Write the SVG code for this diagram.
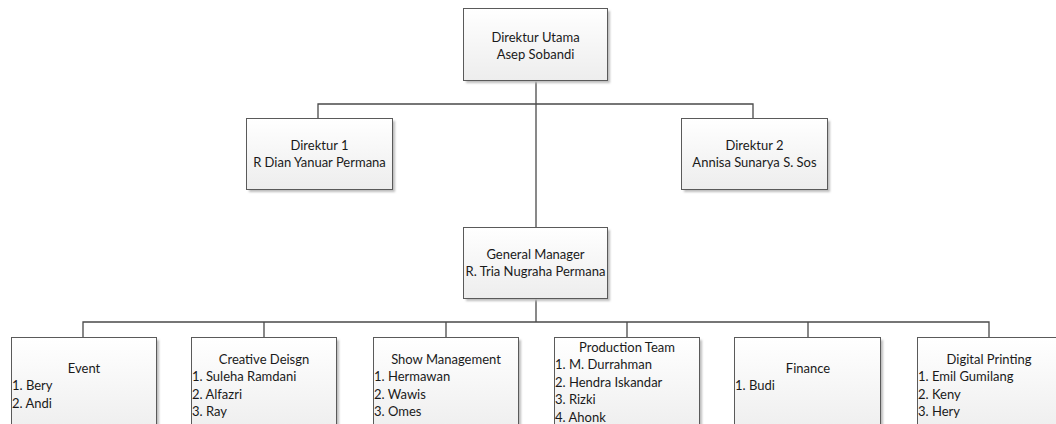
<svg xmlns="http://www.w3.org/2000/svg" width="1056" height="424" viewBox="0 0 1056 424">
  <defs>
    <linearGradient id="boxFill" x1="0" y1="0" x2="0" y2="1">
      <stop offset="0" stop-color="#ffffff"/>
      <stop offset="1" stop-color="#ededed"/>
    </linearGradient>
    <filter id="soft" x="-10%" y="-10%" width="130%" height="130%">
      <feGaussianBlur stdDeviation="1"/>
    </filter>
  </defs>
  <style>
    .shadow { fill: #bdbdbd; filter: url(#soft); }
    .box { fill: url(#boxFill); stroke: #5a5a5a; stroke-width: 1; }
    .conn { fill: none; stroke: #4a4a4a; stroke-width: 1.3; }
    text { font-family: Lato, "Open Sans", "Liberation Sans", sans-serif; font-size: 13px; fill: #1a1a1a; }
    .c { text-anchor: middle; }
  </style>

  <!-- connectors -->
  <g id="connectors">
    <path class="conn" d="M536 80 V227"/>
    <path class="conn" d="M318 118 V104 H753 V118"/>
    <path class="conn" d="M536 298 V322"/>
    <path class="conn" d="M83 337 V322 H989 V337"/>
    <path class="conn" d="M264 322 V337 M446 322 V337 M627 322 V337 M808 322 V337"/>
  </g>

  <!-- top level -->
  <g id="direktur-utama">
    <rect class="shadow" x="466" y="11" width="144" height="72"/>
    <rect class="box" x="463.5" y="8.5" width="144" height="72"/>
    <text class="c" x="535.5" y="42">Direktur Utama</text>
    <text class="c" x="535.5" y="59">Asep Sobandi</text>
  </g>

  <g id="direktur-1">
    <rect class="shadow" x="249" y="121" width="146" height="71"/>
    <rect class="box" x="246.5" y="118.5" width="146" height="71"/>
    <text class="c" x="319.5" y="150">Direktur 1</text>
    <text class="c" x="319.5" y="167">R Dian Yanuar Permana</text>
  </g>

  <g id="direktur-2">
    <rect class="shadow" x="684" y="121" width="146" height="71"/>
    <rect class="box" x="681.5" y="118.5" width="146" height="71"/>
    <text class="c" x="754.5" y="150">Direktur 2</text>
    <text class="c" x="754.5" y="167">Annisa Sunarya S. Sos</text>
  </g>

  <g id="general-manager">
    <rect class="shadow" x="466" y="230" width="144" height="71"/>
    <rect class="box" x="463.5" y="227.5" width="144" height="71"/>
    <text class="c" x="535.5" y="259">General Manager</text>
    <text class="c" x="535.5" y="276">R. Tria Nugraha Permana</text>
  </g>

  <!-- divisions -->
  <g id="event">
    <rect class="shadow" x="14" y="340" width="145" height="100"/>
    <rect class="box" x="11.5" y="337.5" width="145" height="100"/>
    <text class="c" x="84" y="373">Event</text>
    <text x="12" y="390">1. Bery</text>
    <text x="12" y="408">2. Andi</text>
  </g>

  <g id="creative-design">
    <rect class="shadow" x="194" y="340" width="145" height="100"/>
    <rect class="box" x="191.5" y="337.5" width="145" height="100"/>
    <text class="c" x="264" y="364">Creative Deisgn</text>
    <text x="192" y="381">1. Suleha Ramdani</text>
    <text x="192" y="399">2. Alfazri</text>
    <text x="192" y="416">3. Ray</text>
  </g>

  <g id="show-management">
    <rect class="shadow" x="376" y="340" width="145" height="100"/>
    <rect class="box" x="373.5" y="337.5" width="145" height="100"/>
    <text class="c" x="446" y="364">Show Management</text>
    <text x="374" y="381">1. Hermawan</text>
    <text x="374" y="399">2. Wawis</text>
    <text x="374" y="416">3. Omes</text>
  </g>

  <g id="production-team">
    <rect class="shadow" x="557" y="340" width="145" height="100"/>
    <rect class="box" x="554.5" y="337.5" width="145" height="100"/>
    <text class="c" x="627" y="352">Production Team</text>
    <text x="555" y="369">1. M. Durrahman</text>
    <text x="555" y="387">2. Hendra Iskandar</text>
    <text x="555" y="404">3. Rizki</text>
    <text x="555" y="422">4. Ahonk</text>
  </g>

  <g id="finance">
    <rect class="shadow" x="737" y="340" width="146" height="100"/>
    <rect class="box" x="734.5" y="337.5" width="146" height="100"/>
    <text class="c" x="808" y="373">Finance</text>
    <text x="735" y="390">1. Budi</text>
  </g>

  <g id="digital-printing">
    <rect class="shadow" x="920" y="340" width="145" height="100"/>
    <rect class="box" x="917.5" y="337.5" width="145" height="100"/>
    <text class="c" x="989" y="364">Digital Printing</text>
    <text x="918" y="381">1. Emil Gumilang</text>
    <text x="918" y="399">2. Keny</text>
    <text x="918" y="416">3. Hery</text>
  </g>
</svg>
